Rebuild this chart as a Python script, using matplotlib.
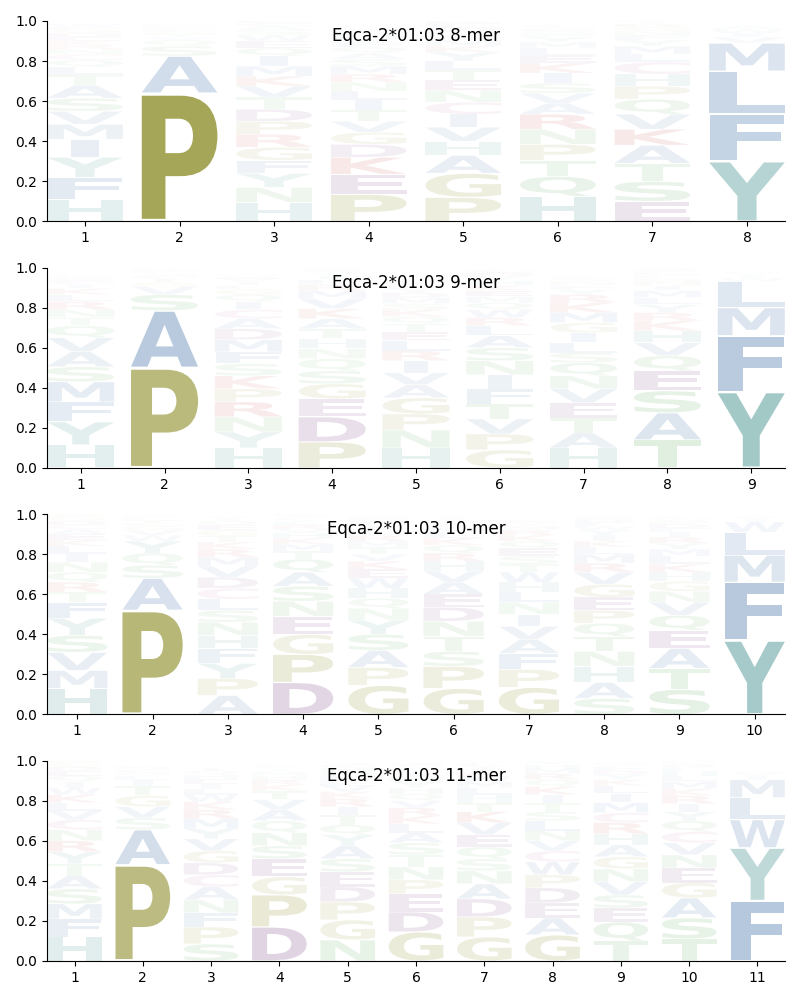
import matplotlib
matplotlib.use("Agg")
import matplotlib.pyplot as plt
from matplotlib.textpath import TextPath
from matplotlib.patches import PathPatch
from matplotlib.font_manager import FontProperties
from matplotlib.transforms import Affine2D

# letter frequencies per position
mer8 = [
    {'H': .11, 'F': .11, 'Y': .10, 'I': .09, 'M': .075, 'V': .065, 'S': .065, 'A': .065, 'T': .05, 'L': .04,
     'Q': .035, 'C': .03, 'N': .025, 'R': .02, 'K': .02, 'E': .02, 'D': .02, 'G': .015, 'P': .015, 'W': .015},
    {'P': .64, 'A': .185, 'S': .05, 'Q': .03, 'V': .015, 'T': .015, 'G': .012, 'C': .01, 'L': .008, 'N': .005,
     'E': .005, 'K': .005, 'M': .005},
    {'H': .095, 'N': .075, 'Y': .07, 'F': .065, 'G': .065, 'R': .065, 'P': .065, 'D': .06, 'T': .06, 'V': .055,
     'K': .05, 'M': .05, 'I': .05, 'Q': .04, 'E': .035, 'W': .03, 'S': .025, 'A': .02, 'C': .015, 'L': .015},
    {'P': .135, 'E': .10, 'K': .085, 'D': .065, 'G': .06, 'V': .055, 'T': .055, 'I': .05, 'L': .045, 'N': .045,
     'R': .04, 'M': .04, 'S': .035, 'A': .03, 'Q': .03, 'F': .025, 'Y': .02, 'H': .02, 'C': .015, 'W': .01},
    {'P': .12, 'G': .12, 'A': .09, 'H': .07, 'V': .07, 'I': .065, 'C': .06, 'N': .06, 'E': .05, 'T': .05,
     'L': .045, 'Y': .045, 'K': .03, 'M': .03, 'S': .025, 'Q': .02, 'D': .02, 'F': .02, 'R': .015, 'W': .01},
    {'H': .125, 'Q': .10, 'T': .08, 'P': .08, 'N': .075, 'R': .075, 'A': .055, 'V': .05, 'S': .05, 'I': .05,
     'K': .05, 'E': .04, 'L': .035, 'M': .03, 'Y': .025, 'F': .015, 'G': .015, 'D': .01, 'W': .01, 'C': .01},
    {'E': .10, 'S': .10, 'T': .09, 'A': .09, 'K': .08, 'V': .075, 'Q': .075, 'P': .065, 'H': .06, 'C': .06,
     'L': .04, 'M': .04, 'Y': .03, 'F': .025, 'N': .02, 'G': .02, 'R': .015, 'I': .01, 'D': .01, 'W': .01},
    {'Y': .30, 'F': .235, 'L': .215, 'M': .14, 'V': .03, 'I': .02, 'W': .02, 'A': .015, 'T': .005},
]

mer9 = [
    {'H': .115, 'Y': .115, 'F': .10, 'M': .10, 'S': .075, 'A': .075, 'V': .07, 'Q': .06, 'T': .04, 'N': .04,
     'R': .04, 'L': .035, 'K': .03, 'I': .02, 'C': .015, 'E': .01, 'D': .01, 'G': .005, 'W': .005, 'P': .005},
    {'P': .50, 'A': .285, 'S': .08, 'V': .04, 'G': .02, 'T': .02, 'C': .015, 'Q': .01, 'L': .01, 'N': .005,
     'E': .005, 'K': .005},
    {'H': .10, 'Y': .08, 'N': .075, 'R': .075, 'P': .065, 'K': .065, 'S': .06, 'F': .06, 'M': .06, 'D': .055,
     'A': .05, 'C': .045, 'I': .04, 'Q': .035, 'G': .025, 'L': .02, 'T': .02, 'V': .015, 'E': .01, 'W': .01},
    {'P': .13, 'D': .125, 'E': .09, 'G': .075, 'S': .065, 'Q': .06, 'N': .05, 'H': .05, 'T': .05, 'A': .05,
     'K': .05, 'V': .05, 'M': .04, 'R': .03, 'L': .025, 'I': .02, 'Y': .015, 'F': .01, 'W': .01, 'C': .01},
    {'H': .10, 'N': .09, 'P': .08, 'G': .08, 'A': .065, 'V': .06, 'I': .06, 'R': .05, 'L': .05, 'E': .045,
     'T': .04, 'Q': .035, 'K': .035, 'S': .03, 'M': .03, 'D': .025, 'Y': .02, 'F': .015, 'W': .01, 'C': .01},
    {'G': .09, 'P': .08, 'V': .075, 'T': .075, 'F': .075, 'I': .07, 'N': .07, 'S': .065, 'A': .06, 'L': .05,
     'R': .04, 'W': .04, 'Q': .035, 'M': .03, 'E': .03, 'K': .025, 'H': .025, 'Y': .02, 'D': .02, 'C': .015},
    {'H': .10, 'A': .075, 'T': .075, 'E': .075, 'V': .07, 'N': .065, 'Q': .065, 'S': .05, 'L': .05, 'I': .05,
     'G': .05, 'M': .05, 'K': .05, 'R': .04, 'Y': .025, 'F': .02, 'D': .015, 'P': .01, 'W': .01, 'C': .01},
    {'T': .14, 'A': .135, 'S': .11, 'E': .10, 'Q': .075, 'V': .065, 'H': .06, 'K': .05, 'R': .04, 'Y': .04,
     'L': .035, 'M': .035, 'I': .025, 'N': .02, 'G': .015, 'F': .015, 'D': .01, 'C': .01, 'P': .01, 'W': .01},
    {'Y': .38, 'F': .28, 'M': .14, 'L': .13, 'W': .02, 'I': .015, 'V': .01, 'A': .005, 'T': .005},
]

mer10 = [
    {'H': .13, 'M': .09, 'V': .09, 'S': .085, 'Y': .085, 'F': .08, 'T': .05, 'R': .05, 'Q': .05, 'N': .05,
     'I': .04, 'L': .04, 'K': .03, 'E': .03, 'A': .025, 'C': .02, 'D': .02, 'G': .015, 'P': .015, 'W': .01},
    {'P': .52, 'A': .16, 'S': .065, 'Q': .06, 'Y': .06, 'W': .03, 'V': .025, 'G': .02, 'C': .015, 'T': .015,
     'L': .01, 'N': .005, 'E': .005, 'K': .005},
    {'A': .095, 'P': .085, 'Y': .075, 'F': .075, 'H': .065, 'N': .065, 'S': .06, 'L': .055, 'C': .055, 'D': .055,
     'V': .055, 'M': .045, 'R': .04, 'K': .035, 'T': .03, 'G': .03, 'E': .025, 'Q': .02, 'I': .015, 'W': .01},
    {'D': .16, 'P': .14, 'G': .10, 'E': .09, 'N': .075, 'S': .075, 'A': .07, 'Q': .065, 'T': .04, 'M': .035,
     'K': .03, 'H': .025, 'V': .02, 'R': .02, 'L': .015, 'I': .01, 'F': .01, 'Y': .01, 'C': .01, 'W': .01},
    {'G': .145, 'P': .09, 'A': .085, 'S': .08, 'Y': .07, 'N': .06, 'Q': .05, 'H': .05, 'W': .05, 'E': .045,
     'K': .04, 'V': .035, 'T': .035, 'M': .03, 'R': .03, 'L': .025, 'I': .02, 'F': .02, 'D': .015, 'C': .015},
    {'G': .13, 'P': .11, 'S': .075, 'T': .075, 'N': .075, 'D': .07, 'E': .065, 'A': .06, 'V': .055, 'H': .05,
     'R': .04, 'Q': .04, 'K': .035, 'L': .03, 'M': .02, 'Y': .015, 'F': .01, 'W': .01, 'C': .01, 'I': .01},
    {'G': .135, 'P': .09, 'F': .08, 'A': .07, 'V': .065, 'I': .06, 'N': .06, 'L': .05, 'H': .05, 'W': .05,
     'T': .04, 'S': .04, 'E': .04, 'Q': .035, 'K': .03, 'R': .025, 'M': .02, 'Y': .015, 'D': .01, 'C': .01},
    {'S': .08, 'A': .08, 'H': .08, 'N': .075, 'T': .075, 'Q': .065, 'P': .065, 'E': .065, 'G': .065, 'V': .06,
     'R': .045, 'M': .045, 'L': .035, 'K': .03, 'I': .03, 'Y': .025, 'W': .02, 'F': .02, 'D': .015, 'C': .015},
    {'S': .125, 'T': .105, 'A': .10, 'E': .09, 'Q': .075, 'V': .065, 'N': .055, 'G': .05, 'H': .045, 'K': .04,
     'L': .04, 'M': .035, 'Y': .03, 'R': .03, 'I': .025, 'F': .02, 'D': .02, 'P': .015, 'W': .01, 'C': .01},
    {'Y': .37, 'F': .29, 'M': .135, 'L': .115, 'W': .05, 'I': .015, 'V': .01, 'A': .005, 'T': .005},
]

mer11 = [
    {'H': .12, 'F': .09, 'M': .075, 'S': .075, 'A': .065, 'T': .06, 'Y': .06, 'R': .055, 'N': .055, 'C': .05,
     'V': .045, 'L': .04, 'K': .04, 'W': .035, 'I': .03, 'Q': .03, 'E': .025, 'D': .02, 'G': .015, 'P': .015},
    {'P': .48, 'A': .175, 'S': .06, 'V': .055, 'G': .055, 'T': .05, 'I': .03, 'L': .02, 'Q': .015, 'C': .015,
     'N': .01, 'E': .005, 'K': .005},
    {'S': .085, 'P': .085, 'F': .07, 'N': .065, 'A': .065, 'C': .06, 'D': .06, 'G': .06, 'V': .06, 'Y': .05,
     'M': .05, 'R': .045, 'K': .04, 'W': .035, 'L': .03, 'I': .025, 'E': .025, 'H': .02, 'Q': .02, 'T': .015},
    {'D': .17, 'P': .16, 'G': .09, 'E': .09, 'S': .065, 'N': .065, 'Q': .06, 'A': .055, 'V': .05, 'T': .045,
     'K': .03, 'R': .025, 'H': .02, 'M': .015, 'L': .01, 'I': .01, 'Y': .01, 'F': .005, 'W': .005, 'C': .005},
    {'N': .105, 'G': .10, 'P': .09, 'D': .075, 'E': .075, 'S': .065, 'A': .065, 'Y': .055, 'Q': .05, 'T': .05,
     'I': .04, 'R': .04, 'K': .035, 'V': .03, 'L': .025, 'M': .025, 'F': .02, 'H': .02, 'C': .015, 'W': .01},
    {'G': .145, 'D': .10, 'E': .09, 'P': .07, 'N': .065, 'T': .06, 'S': .06, 'A': .05, 'L': .045, 'K': .04,
     'R': .04, 'V': .035, 'Q': .035, 'H': .03, 'Y': .03, 'M': .025, 'I': .025, 'F': .02, 'C': .015, 'W': .01},
    {'G': .12, 'P': .10, 'D': .09, 'A': .075, 'N': .065, 'S': .06, 'Q': .06, 'E': .06, 'V': .06, 'K': .055,
     'T': .045, 'H': .04, 'L': .035, 'M': .03, 'W': .025, 'R': .02, 'I': .02, 'Y': .015, 'F': .015, 'C': .01},
    {'G': .13, 'A': .085, 'E': .075, 'D': .075, 'P': .065, 'W': .065, 'C': .055, 'V': .05, 'N': .05, 'L': .05,
     'S': .045, 'T': .045, 'I': .04, 'K': .04, 'Q': .035, 'R': .03, 'M': .025, 'H': .02, 'Y': .015, 'F': .01},
    {'T': .10, 'Q': .095, 'E': .07, 'S': .065, 'V': .065, 'N': .065, 'G': .06, 'A': .06, 'H': .055, 'R': .055,
     'C': .05, 'M': .05, 'I': .045, 'L': .04, 'K': .03, 'Y': .025, 'D': .02, 'F': .02, 'W': .01, 'P': .01},
    {'T': .11, 'S': .105, 'A': .10, 'G': .075, 'E': .075, 'N': .065, 'V': .06, 'C': .055, 'Q': .055, 'Y': .045,
     'I': .04, 'R': .04, 'K': .035, 'M': .035, 'L': .03, 'H': .025, 'F': .015, 'D': .015, 'W': .01, 'P': .01},
    {'F': .30, 'Y': .265, 'W': .14, 'L': .11, 'M': .09, 'I': .02, 'V': .015, 'A': .01, 'T': .005},
]

titles = ["Eqca-2*01:03 8-mer", "Eqca-2*01:03 9-mer", "Eqca-2*01:03 10-mer", "Eqca-2*01:03 11-mer"]

# colour groups
olive = (0.64, 0.64, 0.32)
blue = (0.36, 0.52, 0.71)
teal = (0.37, 0.63, 0.62)
purple = (0.54, 0.34, 0.57)
pink = (0.78, 0.45, 0.66)
red = (0.80, 0.32, 0.32)
green = (0.44, 0.71, 0.44)
colors = {}
for c in "PG":
    colors[c] = olive
for c in "AVLIMFW":
    colors[c] = blue
for c in "YH":
    colors[c] = teal
for c in "DE":
    colors[c] = purple
for c in "KR":
    colors[c] = red
for c in "NQST":
    colors[c] = green
colors["C"] = pink

font = FontProperties(family="DejaVu Sans", weight="bold")
ref_w = TextPath((0, 0), "E", size=1, prop=font).get_extents().width


def draw_letter(ax, ch, x, y, w, h, color, alpha):
    path = TextPath((0, 0), ch, size=1, prop=font)
    ext = path.get_extents()
    sx = min(w / ext.width, w / ref_w)
    sy = h / ext.height
    gw = ext.width * sx
    tr = Affine2D().translate(-ext.x0, -ext.y0).scale(sx, sy).translate(x - gw / 2, y)
    ax.add_patch(PathPatch(tr.transform_path(path), facecolor=color, edgecolor="none", alpha=alpha))


def draw_logo(ax, data, title):
    for i, pos in enumerate(data):
        x = i + 1
        y = 0
        for ch, h in sorted(pos.items(), key=lambda kv: -kv[1]):
            pad = 0.02 * h
            draw_letter(ax, ch, x, y + pad, 0.8, h - 2 * pad, colors[ch], min(1.0, 1.5 * h))
            y += h
    n = len(data)
    ax.set_xlim(0.6, n + 0.4)
    ax.set_ylim(0, 1)
    ax.set_xticks(range(1, n + 1))
    ax.spines["top"].set_visible(False)
    ax.spines["right"].set_visible(False)
    ax.text(0.5, 0.925, title, transform=ax.transAxes, ha="center", va="center", fontsize=12)


fig, axes = plt.subplots(4, 1, figsize=(8, 10), dpi=100)
fig.subplots_adjust(left=0.059, right=0.981, top=0.979, bottom=0.039, hspace=0.23)
for ax, data, title in zip(axes, [mer8, mer9, mer10, mer11], titles):
    draw_logo(ax, data, title)

plt.savefig("out.png")
